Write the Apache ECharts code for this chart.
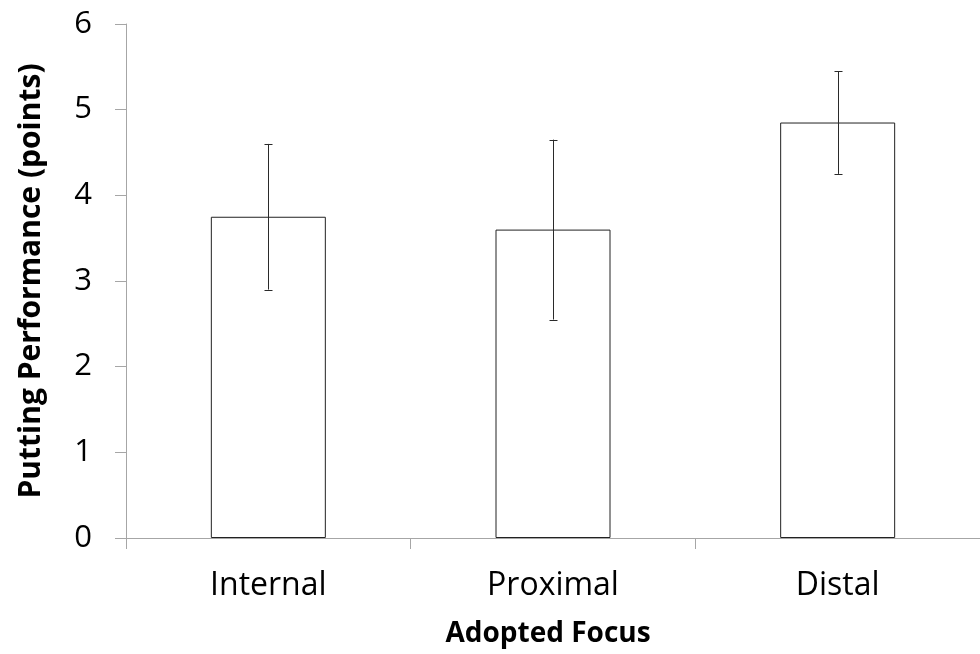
<!DOCTYPE html>
<html><head><meta charset="utf-8">
<script src="https://cdn.jsdelivr.net/npm/echarts@6/dist/echarts.min.js"></script>
<style>html,body{margin:0;padding:0;background:#fff}#c{width:980px;height:654px}</style>
</head><body><div id="c"></div>
<script>
var categories = ['Internal', 'Proximal', 'Distal'];
var means = [3.75, 3.6, 4.85];
var errLow = [2.9, 2.55, 4.25];
var errHigh = [4.6, 4.65, 5.45];
var yTicks = [0, 1, 2, 3, 4, 5, 6];
var xTitle = 'Adopted Focus';
var yTitle = 'Putting Performance (points)';

var FONT = 'Open Sans';
var chart = echarts.init(document.getElementById('c'), null, {renderer: 'canvas'});
chart.setOption({
  animation: false,
  backgroundColor: '#ffffff',
  grid: {left: 126, top: 24, width: 860, height: 514, containLabel: false},
  xAxis: {
    type: 'category', data: categories,
    axisLine: {lineStyle: {color: '#a6a6a6', width: 1}},
    axisTick: {show: true, length: 11, lineStyle: {color: '#a6a6a6'}, alignWithLabel: false},
    axisLabel: {fontFamily: FONT, fontSize: 32, color: '#000', margin: 32},
    name: xTitle, nameLocation: 'middle', nameGap: 82,
    nameTextStyle: {fontFamily: FONT, fontSize: 28, fontWeight: 'bold', color: '#000', padding: [0, 0, 0, -10]}
  },
  yAxis: {
    type: 'value', min: 0, max: 6, interval: 1,
    axisLine: {show: true, lineStyle: {color: '#a6a6a6', width: 1}},
    axisTick: {show: true, length: 11, lineStyle: {color: '#a6a6a6'}},
    splitLine: {show: false},
    axisLabel: {fontFamily: FONT, fontSize: 31, color: '#000', margin: 34,
      formatter: function (v) { return yTicks.indexOf(v) >= 0 ? String(v) : ''; }},
    name: yTitle, nameLocation: 'middle', nameGap: 80,
    nameTextStyle: {fontFamily: FONT, fontSize: 30, fontWeight: 'bold', color: '#000'}
  },
  series: [
    {
      type: 'bar', data: means, barWidth: 115, barGap: '0%',
      itemStyle: {color: '#ffffff', borderColor: '#222222', borderWidth: 1}
    },
    {
      type: 'custom',
      data: categories.map(function (c, i) { return [i, errLow[i], errHigh[i]]; }),
      renderItem: function (params, api) {
        var lo = api.coord([api.value(0), api.value(1)]);
        var hi = api.coord([api.value(0), api.value(2)]);
        var x = Math.round(lo[0]) + 0.5;
        var w = 4;
        var st = {stroke: '#2a2a2a', lineWidth: 1};
        return {type: 'group', children: [
          {type: 'line', shape: {x1: x, y1: hi[1], x2: x, y2: lo[1]}, style: st},
          {type: 'line', shape: {x1: x - w, y1: Math.round(hi[1]) + 0.5, x2: x + w, y2: Math.round(hi[1]) + 0.5}, style: st},
          {type: 'line', shape: {x1: x - w, y1: Math.round(lo[1]) + 0.5, x2: x + w, y2: Math.round(lo[1]) + 0.5}, style: st}
        ]};
      },
      z: 5
    }
  ]
});
</script></body></html>
